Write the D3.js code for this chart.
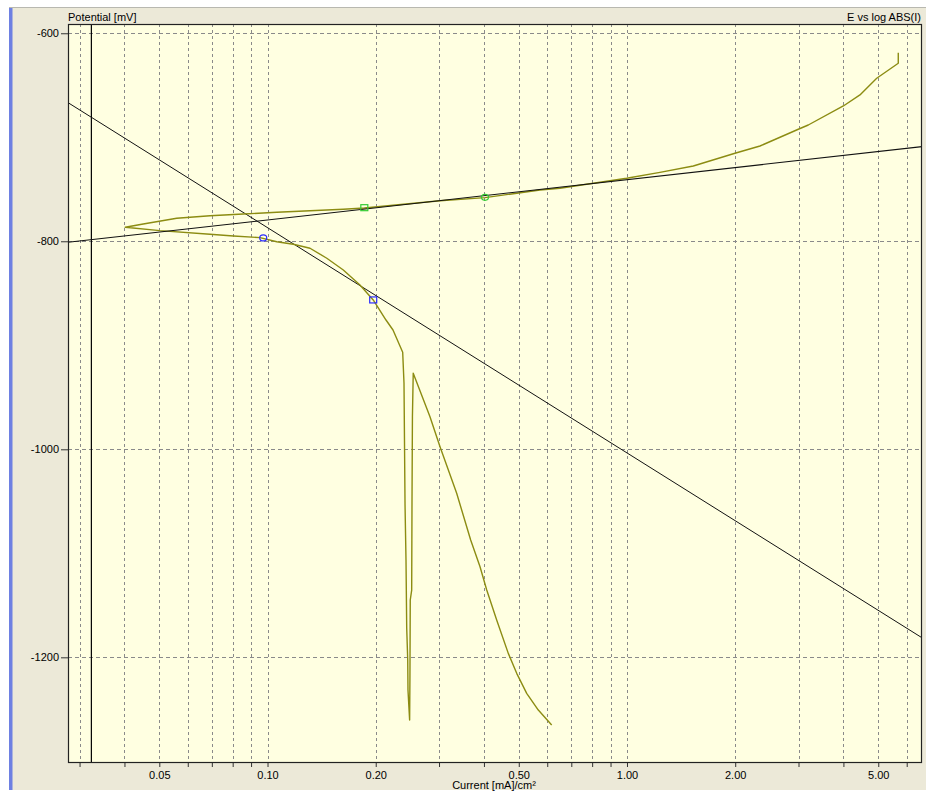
<!DOCTYPE html>
<html><head><meta charset="utf-8">
<script src="https://cdn.jsdelivr.net/npm/d3@7"></script>
<style>
html,body{margin:0;padding:0;background:#fff;}
svg{display:block;}
text{font-family:"Liberation Sans",Arial,sans-serif;font-size:11px;fill:#000;}
</style></head>
<body>
<svg id="chart" width="926" height="791"></svg>
<script>
// ---- data ----
const curveCurrent = [0.6173,0.5666,0.526,0.4934,0.4675,0.434,0.4072,0.3901,0.3674,0.3359,0.3019,0.2831,0.2543,
  0.2530,0.2523,0.2518,0.2495,0.2490,0.2485,0.2459,0.2455,0.2439,0.2428,0.2413,0.2397,0.2377,
  0.2234,0.2136,0.1968,0.1808,0.1625,0.1462,0.1313,0.1180,0.1061,0.0953,0.0804,0.0692,0.0502,0.0402,
  0.0451,0.0559,0.0692,0.0856,0.1061,0.1313,0.1625,0.1859,0.3019,0.4027,0.5728,0.651,0.806,0.998,1.235,1.529,
  1.997,2.344,2.996,3.194,3.998,4.447,4.951,5.684,5.684];
const curvePotential = [-1265.1,-1250.7,-1234.6,-1215.4,-1196.2,-1164.1,-1135.3,-1112.9,-1087.2,-1042.3,-997.5,-968.7,-926.9,
  -968.9,-1051.6,-1135.3,-1144.9,-1219.0,-1260.3,-1231.4,-1202.6,-1171.8,-1106.4,-1053.6,-936.3,-906.7,
  -885.3,-875.7,-856.4,-842.0,-827.6,-816.3,-806.7,-802.9,-800.4,-796.5,-794.9,-793.3,-789.8,-786.5,
  -783.4,-777.9,-775.4,-773.8,-772.1,-770.6,-769.2,-768.0,-761.0,-758.0,-750.7,-749.0,-744.2,-739.4,-733.7,-727.6,
  -715.4,-708.4,-692.3,-688.2,-669.9,-659.3,-643.3,-628.8,-618.7];

const cathodicTafelCurrent = [0.02786, 6.617];
const cathodicTafelPotential = [-666.7, -1181.2];
const anodicTafelCurrent = [0.02786, 6.617];
const anodicTafelPotential = [-801.0, -709.0];

const markerCurrent = 0.03236;

const cathodicPointsCurrent = [0.0973, 0.1968];
const cathodicPointsPotential = [-796.8, -856.4];
const cathodicPointsShape = ["circle", "square"];
const anodicPointsCurrent = [0.1859, 0.4027];
const anodicPointsPotential = [-767.7, -757.7];
const anodicPointsShape = ["square", "circle"];

const xDomain = [0.02786, 6.617];
const yDomain = [-1301.6, -591.1];
const xGridValues = [0.03,0.04,0.05,0.06,0.07,0.08,0.09,0.1,0.2,0.3,0.4,0.5,0.6,0.7,0.8,0.9,1,2,3,4,5,6];
const xTickLabels = [0.05,0.1,0.2,0.5,1,2,5];
const yTickValues = [-600,-800,-1000,-1200];

const yAxisTitle = "Potential [mV]";
const chartTitle = "E vs log ABS(I)";
const xAxisTitle = "Current [mA]/cm²";

// ---- layout ----
const L = 68, T = 24, R = 922, B = 763;
const svg = d3.select("#chart");

// window background
svg.append("rect").attr("x",0).attr("y",0).attr("width",926).attr("height",791).attr("fill","#ffffff");
svg.append("rect").attr("x",9).attr("y",8).attr("width",917).attr("height",782).attr("fill","#ECE9D8");
svg.append("line").attr("x1",9).attr("x2",926).attr("y1",7.5).attr("y2",7.5).attr("stroke","#b8b8b0").attr("stroke-width",1);
svg.append("rect").attr("x",9).attr("y",8).attr("width",3.5).attr("height",782).attr("fill","#6E80E2");

const x = d3.scaleLog().domain(xDomain).range([L, R]);
const y = d3.scaleLinear().domain(yDomain).range([B, T]);

// plot background
svg.append("rect").attr("x",L).attr("y",T).attr("width",R-L).attr("height",B-T).attr("fill","#FFFFE1");

// grid
const grid = svg.append("g");
grid.selectAll("line.vg").data(xGridValues).join("line")
  .attr("x1",d=>Math.round(x(d))+0.5).attr("x2",d=>Math.round(x(d))+0.5)
  .attr("y1",T).attr("y2",B)
  .attr("stroke","#8a8a8a").attr("stroke-width",1).attr("stroke-dasharray","3,3");
grid.selectAll("line.hg").data(yTickValues).join("line")
  .attr("x1",L).attr("x2",R)
  .attr("y1",d=>Math.round(y(d))+0.5).attr("y2",d=>Math.round(y(d))+0.5)
  .attr("stroke","#8a8a8a").attr("stroke-width",1).attr("stroke-dasharray","4,3");

// axes
const xAxis = d3.axisBottom(x).tickValues(xGridValues).tickSize(4).tickPadding(4)
  .tickFormat(d => xTickLabels.some(v => Math.abs(v-d) < 1e-9) ? d.toFixed(2) : "");
const gx = svg.append("g").attr("transform",`translate(0,${B})`).call(xAxis);
gx.select(".domain").remove();
gx.selectAll(".tick line").attr("stroke","#333");
gx.selectAll(".tick text").attr("font-family","Liberation Sans, Arial, sans-serif").attr("font-size",11).attr("fill","#000");

const yAxis = d3.axisLeft(y).tickValues(yTickValues).tickSize(7).tickPadding(2).tickFormat(d => String(d));
const gy = svg.append("g").attr("transform",`translate(${L},0)`).call(yAxis);
gy.select(".domain").remove();
gy.selectAll(".tick line").attr("stroke","#333");
gy.selectAll(".tick text").attr("font-family","Liberation Sans, Arial, sans-serif").attr("font-size",11).attr("fill","#000");

// clip
svg.append("clipPath").attr("id","clip").append("rect").attr("x",L).attr("y",T).attr("width",R-L).attr("height",B-T);
const plot = svg.append("g").attr("clip-path","url(#clip)");

// vertical marker line
plot.append("line").attr("x1",x(markerCurrent)).attr("x2",x(markerCurrent)).attr("y1",T).attr("y2",B)
  .attr("stroke","#000").attr("stroke-width",1.2);

// Tafel lines
const lineGen = d3.line().x(d=>x(d[0])).y(d=>y(d[1]));
plot.append("path").datum(d3.zip(cathodicTafelCurrent, cathodicTafelPotential))
  .attr("d",lineGen).attr("fill","none").attr("stroke","#111").attr("stroke-width",1);

// data curve
plot.append("path").datum(d3.zip(curveCurrent, curvePotential))
  .attr("d",lineGen).attr("fill","none").attr("stroke","#8c8c12").attr("stroke-width",1.4)
  .attr("stroke-linejoin","round");

plot.append("path").datum(d3.zip(anodicTafelCurrent, anodicTafelPotential))
  .attr("d",lineGen).attr("fill","none").attr("stroke","#111").attr("stroke-width",1.1);

// fit points
function drawPoints(cur, pot, shp, color){
  d3.zip(cur, pot, shp).forEach(([c,p,s])=>{
    if(s==="circle"){
      plot.append("ellipse").attr("cx",x(c)).attr("cy",y(p)).attr("rx",3.5).attr("ry",3)
        .attr("fill","none").attr("stroke",color).attr("stroke-width",1.2);
    } else {
      plot.append("rect").attr("x",x(c)-3.5).attr("y",y(p)-3).attr("width",7).attr("height",6)
        .attr("fill","none").attr("stroke",color).attr("stroke-width",1.2);
    }
  });
}
drawPoints(cathodicPointsCurrent, cathodicPointsPotential, cathodicPointsShape, "#2a2aff");
drawPoints(anodicPointsCurrent, anodicPointsPotential, anodicPointsShape, "#33cc33");

// frame
svg.append("rect").attr("x",L+0.5).attr("y",T+0.5).attr("width",R-L-1).attr("height",B-T-1)
  .attr("fill","none").attr("stroke","#222").attr("stroke-width",1.2);

// titles
svg.append("text").attr("x",L).attr("y",21).text(yAxisTitle);
svg.append("text").attr("x",R-1).attr("y",21).attr("text-anchor","end").text(chartTitle);
svg.append("text").attr("x",494).attr("y",789).attr("text-anchor","middle").text(xAxisTitle);
</script>
</body></html>
